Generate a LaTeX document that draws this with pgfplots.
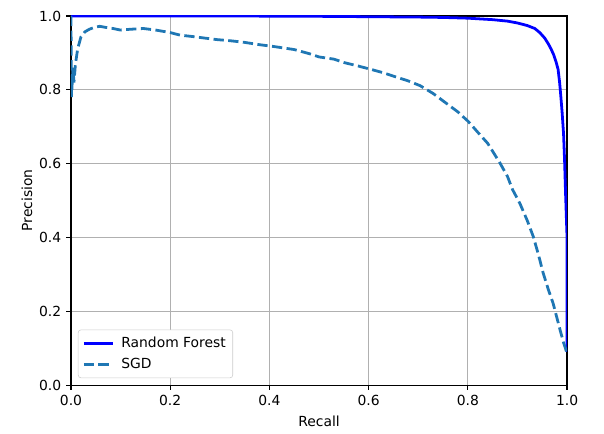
\documentclass[border=0pt]{standalone}
\usepackage{pgfplots}
\pgfplotsset{compat=1.18}
\usepackage{fontspec}
\setmainfont{DejaVu Sans}
\definecolor{tabblue}{HTML}{1F77B4}
\definecolor{gridgray}{HTML}{B0B0B0}
\begin{document}
\begin{tikzpicture}
\begin{axis}[
  scale only axis,
  width=357.1pt, height=265.7pt,
  xmin=0, xmax=1, ymin=0, ymax=1,
  xtick={0,0.2,0.4,0.6,0.8,1.0},
  ytick={0,0.2,0.4,0.6,0.8,1.0},
  xticklabels={0.0,0.2,0.4,0.6,0.8,1.0},
  yticklabels={0.0,0.2,0.4,0.6,0.8,1.0},
  /pgf/number format/assume math mode=true,
  tick label style={font=\fontsize{10}{12}\selectfont},
  label style={font=\fontsize{10}{12}\selectfont},
  xlabel={Recall}, ylabel={Precision},
  xlabel style={yshift=-1pt},
  ylabel style={yshift=-2pt},
  grid=major,
  major grid style={color=gridgray, line width=0.8pt},
  axis line style={line width=0.8pt},
  tick align=outside, tick pos=left,
  major tick length=3.5pt,
  every tick/.style={black, line width=0.8pt},
  legend style={at={(0,0)}, anchor=south west, xshift=5pt, yshift=5pt,
    draw=gray!40, rounded corners=2pt, font=\fontsize{10}{12}\selectfont,
    row sep=2.5pt, inner sep=3pt,
    /tikz/every odd column/.style={column sep=3pt}},
  legend cell align=left,
  legend image code/.code={\draw[#1] (0pt,0pt) -- (21pt,0pt);},
]
\addplot[color=blue, line width=2pt, line join=round] coordinates {
(0,1.0)(0.1,1.0)(0.3,1.0)(0.5,0.999)(0.6,0.998)(0.7,0.997)(0.75,0.996)(0.8,0.994)
(0.85,0.99)(0.88,0.986)(0.9,0.981)(0.92,0.974)(0.935,0.966)(0.945,0.955)
(0.955,0.94)(0.962,0.925)(0.968,0.91)(0.973,0.895)(0.978,0.875)(0.982,0.855)
(0.985,0.82)(0.987,0.79)(0.99,0.74)(0.993,0.68)(0.995,0.61)(0.997,0.52)
(0.999,0.44)(1.0,0.4)(1.0,0.09)
};
\addlegendentry{Random Forest}
\addplot[color=tabblue, line width=2pt, dash pattern=on 7.4pt off 3.2pt] coordinates {
(0,1.0)(0.001,0.78)(0.004,0.86)(0.006,0.82)(0.009,0.87)(0.0135,0.911)(0.02,0.943)
(0.028,0.957)(0.037,0.964)(0.047,0.969)(0.058,0.972)(0.07,0.969)(0.085,0.966)
(0.099,0.962)(0.12,0.964)(0.146,0.966)(0.17,0.962)(0.2,0.955)(0.22,0.948)
(0.247,0.944)(0.27,0.94)(0.294,0.936)(0.32,0.933)(0.347,0.929)(0.381,0.922)
(0.41,0.917)(0.45,0.909)(0.48,0.898)(0.5,0.889)(0.53,0.883)(0.55,0.874)
(0.58,0.864)(0.6,0.857)(0.63,0.846)(0.65,0.837)(0.68,0.824)(0.704,0.811)
(0.73,0.79)(0.75,0.77)(0.78,0.74)(0.801,0.714)(0.82,0.685)(0.84,0.655)
(0.865,0.601)(0.88,0.565)(0.89,0.53)(0.905,0.492)(0.92,0.445)(0.932,0.402)
(0.942,0.355)(0.952,0.303)(0.962,0.26)(0.972,0.221)(0.98,0.18)(0.986,0.149)
(0.993,0.115)(0.999,0.09)
};
\addlegendentry{SGD}
\end{axis}
\useasboundingbox (current axis.south west) ++(-51.1pt,-34.6pt) rectangle ([xshift=26.6pt,yshift=11.5pt]current axis.north east);
\end{tikzpicture}
\end{document}
